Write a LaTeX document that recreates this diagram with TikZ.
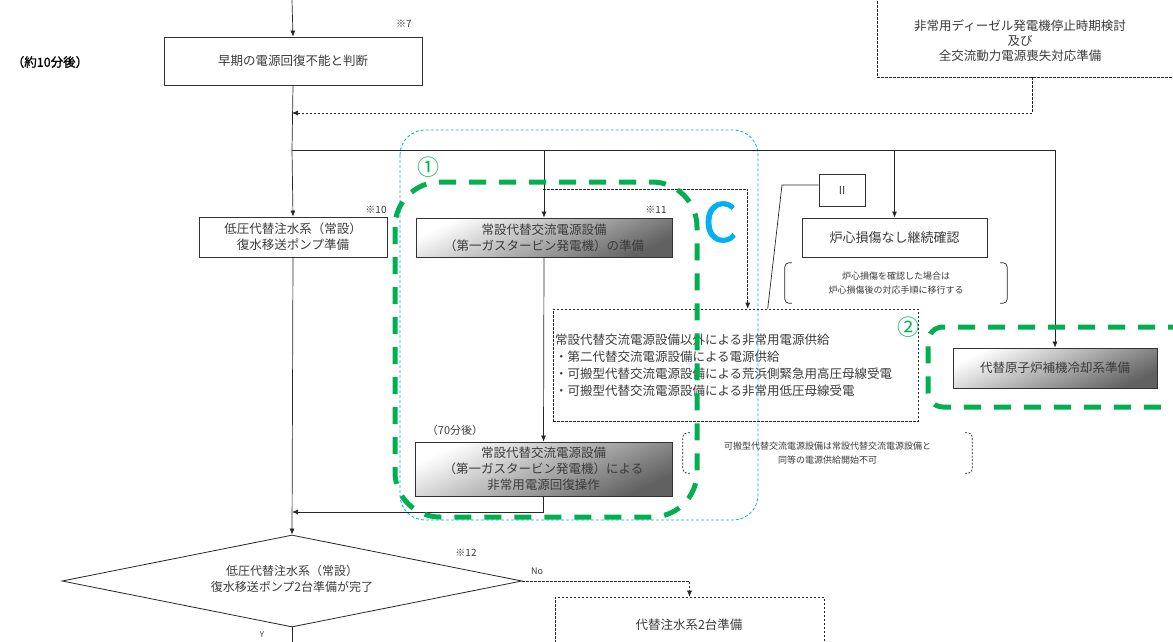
\documentclass[tikz,border=0pt]{standalone}
\usepackage{fontspec}
\setmainfont{Noto Sans CJK JP}
\newfontfamily\jpb[FakeBold=1.2]{Noto Sans CJK JP}
\usetikzlibrary{arrows.meta,shapes.geometric,calc}
\definecolor{gr}{HTML}{00B050}
\definecolor{cy}{HTML}{00B0F0}
\definecolor{tx}{HTML}{3A3A3A}
\begin{document}
\begin{tikzpicture}[x=1pt,y=-1pt,
  font=\fontsize{12.5}{16}\selectfont, text=tx,
  box/.style={draw=black!80, line width=0.8pt, align=center, inner sep=0pt},
  gbox/.style={box, top color=white, bottom color=black!62, shading angle=25},
  dbox/.style={draw=black!85, line width=0.6pt, dash pattern=on 2.5pt off 1.5pt, inner sep=0pt},
  ln/.style={draw=black!85, line width=0.7pt},
  arr/.style={ln, -{Latex[length=6pt,width=5pt]}},
  darr/.style={draw=black!85, line width=0.6pt, dash pattern=on 2.5pt off 1.5pt, -{Latex[length=6pt,width=5pt]}},
  gdash/.style={draw=gr, line width=5pt, dash pattern=on 17pt off 13pt},
  cdash/.style={draw=cy, line width=0.8pt, dash pattern=on 3pt off 2pt},
  small/.style={font=\fontsize{10}{12}\selectfont},
  note/.style={font=\fontsize{9}{14}\selectfont, align=center, inner sep=0pt},
  brk/.style={draw=black!85, line width=0.7pt, rounded corners=4pt},
  dbrk/.style={brk, dash pattern=on 2pt off 1.5pt}]
\useasboundingbox (0,0) rectangle (1173,641);
\clip (0,0) rectangle (1173,641);

% ---- blue C region
\draw[cdash, rounded corners=25] (400,130) rectangle (758,520);

% ---- nodes
\coordinate (top) at (292,0);
\node[box, minimum width=258, minimum height=48] (b1) at (293,61) {早期の電源回復不能と判断};
\node[small] (m7) at (404,24) {※7};
\node[font=\jpb\fontsize{12.5}{14}\selectfont, text=black] (t10) at (50,62) {（約10分後）};

\node[dbox, minimum width=330, minimum height=100] (tr) at (1042,27) {};
\node[align=center, font=\fontsize{12.5}{15}\selectfont] (trt) at (1020,41) {非常用ディーゼル発電機停止時期検討\\及び\\全交流動力電源喪失対応準備};

\node[box, minimum width=188, minimum height=40] (b2) at (293,237) {低圧代替注水系（常設）\\復水移送ポンプ準備};
\node[small] (m10) at (376,210) {※10};

\node[gbox, minimum width=256, minimum height=39] (g1) at (544,237.5) {常設代替交流電源設備\\（第一ガスタービン発電機）の準備};
\node[small] (m11) at (656,210) {※11};

\node[box, minimum width=46, minimum height=32, font=\fontsize{11}{12}\selectfont] (II) at (842,190) {Ⅱ};
\node[box, minimum width=185, minimum height=39, font=\fontsize{13}{15}\selectfont] (core) at (894.5,237.5) {炉心損傷なし継続確認};
\node[note, minimum width=222, minimum height=40] (n1) at (896,283) {炉心損傷を確認した場合は\\炉心損傷後の対応手順に移行する};
\draw[brk] ($(n1.north west)+(7,0)$) -- (n1.north west) -- (n1.south west) -- ($(n1.south west)+(7,0)$);
\draw[brk] ($(n1.north east)+(-7,0)$) -- (n1.north east) -- (n1.south east) -- ($(n1.south east)+(-7,0)$);

\node[dbox, minimum width=365, minimum height=112, text width=361, align=left, inner xsep=2pt, font=\fontsize{12.5}{17}\selectfont] (alt) at (735.5,365) {常設代替交流電源設備以外による非常用電源供給\\・第二代替交流電源設備による電源供給\\・可搬型代替交流電源設備による荒浜側緊急用高圧母線受電\\・可搬型代替交流電源設備による非常用低圧母線受電};

\node[gbox, minimum width=204, minimum height=40] (ah) at (1055,368) {代替原子炉補機冷却系準備};

\node[font=\fontsize{11}{12}\selectfont] (t70) at (455,430) {（70分後）};
\node[gbox, minimum width=257, minimum height=54, font=\fontsize{12.5}{16}\selectfont] (g2) at (543.5,469) {常設代替交流電源設備\\（第一ガスタービン発電機）による\\非常用電源回復操作};

\node[note, minimum width=289, minimum height=40] (n2) at (827.5,453) {可搬型代替交流電源設備は常設代替交流電源設備と\\同等の電源供給開始不可};
\draw[dbrk] ($(n2.north west)+(7,0)$) -- (n2.north west) -- (n2.south west) -- ($(n2.south west)+(7,0)$);
\draw[dbrk] ($(n2.north east)+(-7,0)$) -- (n2.north east) -- (n2.south east) -- ($(n2.south east)+(-7,0)$);

\node[diamond, draw=black!85, line width=0.8pt, inner sep=0pt, aspect=5, minimum width=460, minimum height=92, align=center] (dia) at (292,581) {};
\node[align=center, font=\fontsize{12}{16}\selectfont] (diat) at (292,579) {低圧代替注水系（常設）\\復水移送ポンプ2台準備が完了};
\node[small] (m12) at (466,553) {※12};
\node[font=\fontsize{9}{10}\selectfont] (no) at (537,571) {No};
\node[font=\fontsize{8}{9}\selectfont] (yes) at (262,635) {Y};

\node[dbox, minimum width=269, minimum height=83] (alt2) at (689.5,638.5) {};
\node (alt2t) at (689,625) {代替注水系2台準備};

% ---- connectors
\coordinate (j113) at (292,113);
\coordinate (j150) at (292,150);
\coordinate (j512) at (292,512);
\coordinate (d1) at (543,189);
\draw[arr] (top) -- (b1.north);
\draw[ln] (b1.south) -- (j150);
\draw[arr] (j150) -- (b2.north);
\draw[arr] (b2.south) -- (dia.north);
\draw[arr] (j150) -| (ah.north);
\draw[arr] (g1.north |- j150) -- (g1.north);
\draw[arr] (core.north |- j150) -- (core.north);
\draw[arr] (g1.south) -- (g2.north);
\draw[arr] (g2.south) |- (j512);
\draw[darr] ($(tr.south west)+(156,0)$) |- (j113);
\draw[darr] (d1) -| ($(alt.north west)+(195,0)$);
\draw[ln] ($(II.west)+(0,-5)$) -- (782,185) -- ($(alt.north west)+(215,0)$);
\draw[darr] (dia.east) -| (alt2.north);
\draw[ln] (dia.south) -- ++(0,20);

% ---- green highlights
\draw[gdash, rounded corners=45] (395,182) rectangle (697,517);
\node[text=gr, font=\fontsize{22}{22}\selectfont] (c1) at (428,167) {①};
\draw[gdash, rounded corners=15] (1185,327) -- (928,327) -- (928,407) -- (1185,407);
\node[text=gr, font=\fontsize{22}{22}\selectfont] (c2) at (908,327) {②};
\node[text=cy, font=\jpb\fontsize{54}{54}\selectfont] (cc) at (720,222) {C};
\end{tikzpicture}
\end{document}
